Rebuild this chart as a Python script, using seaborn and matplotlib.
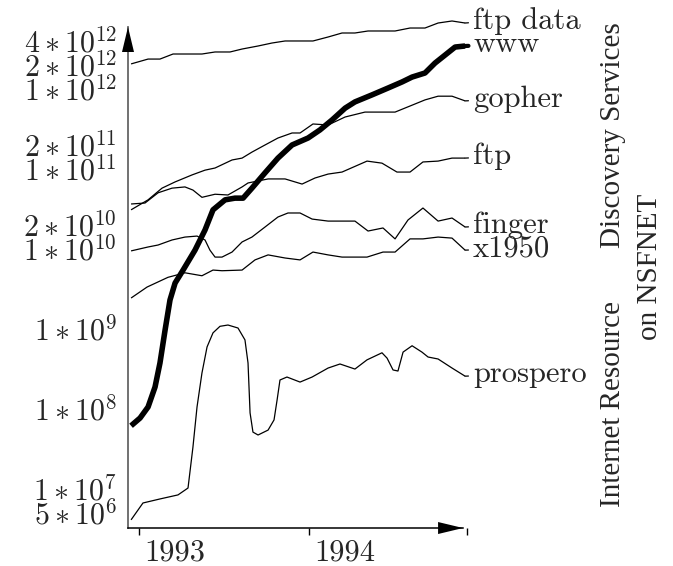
"""
Internet resource discovery services on NSFNET, log scale traffic 1993-1994.
Values read off the reference picture.
"""

import numpy as np
import pandas as pd
import seaborn as sns
import matplotlib

matplotlib.use("Agg")
from matplotlib import pyplot as plt
from matplotlib.transforms import offset_copy

# ---- data (x in years, y in traffic volume) ----
ftp_data_x = [1992.955, 1993.055, 1993.125, 1993.202, 1993.372, 1993.449, 1993.537,
              1993.608, 1993.702, 1993.784, 1993.861, 1994.025, 1994.114, 1994.196,
              1994.272, 1994.349, 1994.508, 1994.596, 1994.684, 1994.761, 1994.843, 1994.92]
ftp_data_y = [2.0e12, 2.3e12, 2.3e12, 2.66e12, 2.66e12, 2.82e12, 2.82e12,
              3.07e12, 3.35e12, 3.65e12, 3.87e12, 3.87e12, 4.34e12, 4.87e12,
              4.87e12, 5.16e12, 5.16e12, 5.62e12, 5.62e12, 6.49e12, 6.88e12, 6.49e12]

www_x = [1992.955, 1993.008, 1993.055, 1993.096, 1993.125, 1993.155, 1993.184, 1993.214,
         1993.261, 1993.331, 1993.39, 1993.437, 1993.508, 1993.566, 1993.614, 1993.666,
         1993.743, 1993.819, 1993.902, 1993.996, 1994.066, 1994.137, 1994.214, 1994.272,
         1994.372, 1994.467, 1994.549, 1994.608, 1994.684, 1994.743, 1994.802, 1994.861,
         1994.92]
www_y = [6.0e7, 7.5e7, 1.03e8, 1.83e8, 3.65e8, 9.4e8, 2.24e9, 3.65e9,
         5.3e9, 9.4e9, 1.68e10, 3.0e10, 4.0e10, 4.2e10, 4.2e10, 5.6e10,
         8.7e10, 1.33e11, 1.94e11, 2.37e11, 2.99e11, 3.98e11, 5.6e11, 6.7e11,
         8.2e11, 1.0e12, 1.19e12, 1.37e12, 1.54e12, 2.05e12, 2.58e12, 3.25e12,
         3.35e12]

gopher_x = [1992.955, 1993.055, 1993.137, 1993.214, 1993.314, 1993.39, 1993.449, 1993.549,
            1993.608, 1993.666, 1993.743, 1993.819, 1993.902, 1993.949, 1994.025, 1994.114,
            1994.214, 1994.331, 1994.508, 1994.608, 1994.684, 1994.761, 1994.843, 1994.92]
gopher_y = [3.0e10, 4.0e10, 5.6e10, 6.7e10, 8.2e10, 9.4e10, 1.0e11, 1.26e11,
            1.33e11, 1.58e11, 1.94e11, 2.37e11, 2.74e11, 2.74e11, 3.55e11, 3.45e11,
            4.34e11, 5.0e11, 5.0e11, 6.1e11, 7.1e11, 7.9e11, 7.9e11, 6.9e11]

ftp_x = [1992.955, 1993.037, 1993.114, 1993.196, 1993.272, 1993.319, 1993.372, 1993.449,
         1993.525, 1993.608, 1993.643, 1993.761, 1993.861, 1993.961, 1994.037, 1994.114,
         1994.196, 1994.343, 1994.431, 1994.519, 1994.596, 1994.672, 1994.761, 1994.843,
         1994.92]
ftp_y = [3.55e10, 3.65e10, 4.9e10, 5.6e10, 5.8e10, 5.3e10, 4.3e10, 4.7e10,
         4.6e10, 5.8e10, 6.5e10, 7.3e10, 7.3e10, 6.3e10, 7.5e10, 8.4e10,
         8.9e10, 1.22e11, 1.15e11, 8.9e10, 8.9e10, 1.19e11, 1.22e11, 1.33e11,
         1.33e11]

finger_x = [1992.955, 1993.055, 1993.114, 1993.196, 1993.272, 1993.343, 1993.39, 1993.419,
            1993.449, 1993.49, 1993.549, 1993.608, 1993.666, 1993.743, 1993.819, 1993.878,
            1993.949, 1994.02, 1994.114, 1994.272, 1994.349, 1994.437, 1994.508, 1994.584,
            1994.672, 1994.761, 1994.843, 1994.92]
finger_y = [9.2e9, 1.03e10, 1.09e10, 1.26e10, 1.37e10, 1.41e10, 1.26e10, 9.4e9,
            7.7e9, 7.7e9, 8.9e9, 1.19e10, 1.37e10, 1.83e10, 2.44e10, 2.74e10,
            2.74e10, 2.3e10, 2.17e10, 2.17e10, 1.63e10, 1.78e10, 1.3e10, 2.24e10,
            3.16e10, 2.17e10, 2.37e10, 1.83e10]

x1950_x = [1992.955, 1993.049, 1993.172, 1993.272, 1993.372, 1993.437, 1993.49, 1993.608,
           1993.684, 1993.761, 1993.861, 1993.949, 1994.025, 1994.114, 1994.196, 1994.343,
           1994.437, 1994.508, 1994.596, 1994.672, 1994.761, 1994.843, 1994.92]
x1950_y = [2.37e9, 3.25e9, 4.3e9, 4.9e9, 4.5e9, 5.3e9, 5.2e9, 5.3e9,
           7.1e9, 8.2e9, 7.5e9, 7.1e9, 8.9e9, 8.2e9, 7.7e9, 7.7e9,
           8.9e9, 8.9e9, 1.3e10, 1.3e10, 1.37e10, 1.33e10, 9.4e9]

prospero_x = [1992.955, 1993.025, 1993.125, 1993.231, 1993.29, 1993.319, 1993.343, 1993.372,
              1993.402, 1993.437, 1993.478, 1993.525, 1993.584, 1993.625, 1993.643, 1993.655,
              1993.672, 1993.702, 1993.761, 1993.796, 1993.814, 1993.831, 1993.872, 1993.949,
              1994.02, 1994.114, 1994.184, 1994.272, 1994.343, 1994.431, 1994.461, 1994.496,
              1994.525, 1994.555, 1994.608, 1994.666, 1994.702, 1994.761, 1994.843, 1994.92]
prospero_y = [4.0e6, 6.5e6, 7.3e6, 8.2e6, 1.0e7, 3.25e7, 1.03e8, 2.74e8,
              5.8e8, 8.7e8, 1.05e9, 1.09e9, 1.0e9, 7.1e8, 3.65e8, 8.7e7,
              5.0e7, 4.6e7, 5.3e7, 7.1e7, 1.26e8, 2.24e8, 2.44e8, 2.11e8,
              2.44e8, 3.16e8, 3.55e8, 3.07e8, 4.0e8, 4.9e8, 4.2e8, 2.99e8,
              2.9e8, 5.0e8, 6.0e8, 5.0e8, 4.34e8, 4.1e8, 3.16e8, 2.5e8]

series_names = ["ftp data", "www", "gopher", "ftp", "finger", "x1950", "prospero"]
series_x = [ftp_data_x, www_x, gopher_x, ftp_x, finger_x, x1950_x, prospero_x]
series_y = [ftp_data_y, www_y, gopher_y, ftp_y, finger_y, x1950_y, prospero_y]

ytick_vals = [5e6, 1e7, 1e8, 1e9, 1e10, 2e10, 1e11, 2e11, 1e12, 2e12, 4e12]
ytick_labels = [r"$5 \ast 10^{6}$", r"$1 \ast 10^{7}$", r"$1 \ast 10^{8}$",
                r"$1 \ast 10^{9}$", r"$1 \ast 10^{10}$", r"$2 \ast 10^{10}$",
                r"$1 \ast 10^{11}$", r"$2 \ast 10^{11}$", r"$1 \ast 10^{12}$",
                r"$2 \ast 10^{12}$", r"$4 \ast 10^{12}$"]
xtick_vals = [1993, 1994]
xtick_labels = ["1993", "1994"]

# long form table for seaborn
df = pd.concat(
    [pd.DataFrame({"service": n, "year": x, "volume": y})
     for n, x, y in zip(series_names, series_x, series_y)],
    ignore_index=True,
)

sns.set_theme(style="white")
plt.rcParams["font.family"] = ["cmr10", "DejaVu Serif"]
plt.rcParams["mathtext.fontset"] = "cm"
plt.rcParams["axes.formatter.use_mathtext"] = True

fig = plt.figure(figsize=(6.73, 5.66), dpi=100)
ax = fig.add_axes([0.1902, 0.0671, 0.5052, 0.8852])

for name in series_names:
    lw = 4.0 if name == "www" else 0.9
    sns.lineplot(data=df[df["service"] == name], x="year", y="volume",
                 color="black", lw=lw, estimator=None, sort=False, ax=ax,
                 solid_capstyle="butt", solid_joinstyle="round", clip_on=False)

ax.set_yscale("log")
ax.set_xlim(1992.937, 1994.937)
ax.set_ylim(10 ** 6.5, 10 ** 12.7625)

# ticks
ax.set_yticks(ytick_vals, labels=ytick_labels)
ax.yaxis.set_minor_locator(matplotlib.ticker.NullLocator())
ax.tick_params(axis="y", length=0, pad=8, labelsize=21.5)
ax.set_xticks(xtick_vals, labels=xtick_labels)
ax.set_xticks([1994.93], minor=True)
ax.tick_params(axis="x", which="both", length=5, width=1.0, pad=3,
               direction="out", bottom=True, labelsize=22, color="black")
for lab in ax.get_xticklabels():
    lab.set_ha("left")
    lab.set_transform(offset_copy(lab.get_transform(), fig=fig, x=6, y=0, units="dots"))
ax.set_xlabel("")
ax.set_ylabel("")

# axes with arrows
ax.spines[["top", "right"]].set_visible(False)
ax.spines["left"].set_color("#666666")
ax.spines["left"].set_linewidth(1.3)
ax.spines["bottom"].set_color("black")
ax.spines["bottom"].set_linewidth(1.1)
ax.spines["bottom"].set_bounds(1992.937, 1994.908)
head = "-|>,head_length=1.5,head_width=0.36"
ax.annotate("", xy=(0, 1), xytext=(0, 0.9), xycoords="axes fraction",
            arrowprops=dict(arrowstyle=head, color="black", lw=0, shrinkA=0, shrinkB=0))
ax.annotate("", xy=(1994.908, 0), xytext=(1994.8, 0), xycoords=("data", "axes fraction"),
            arrowprops=dict(arrowstyle=head, color="black", lw=0, shrinkA=0, shrinkB=0),
            annotation_clip=False)

# series labels at the line ends
for name, x, y in zip(series_names, series_x, series_y):
    lw = 3.0 if name == "www" else 0.9
    ax.annotate(name, xy=(x[-1], y[-1]), xytext=(8, -6), textcoords="offset pixels",
                ha="left", va="baseline", fontsize=22, annotation_clip=False,
                arrowprops=dict(arrowstyle="-", lw=lw, color="black",
                                shrinkA=1, shrinkB=0, relpos=(0, 0.45)))

# title along the right side
title_kw = dict(rotation=90, rotation_mode="anchor", ha="left", va="baseline",
                family="Liberation Serif", fontsize=21)
fig.text(0.9212, 0.1042, "Internet Resource", **title_kw)
fig.text(0.9212, 0.5618, "Discovery Services", **title_kw)
fig.text(0.9762, 0.3993, "on NSFNET", **title_kw)

plt.savefig("out.png", dpi=100)
